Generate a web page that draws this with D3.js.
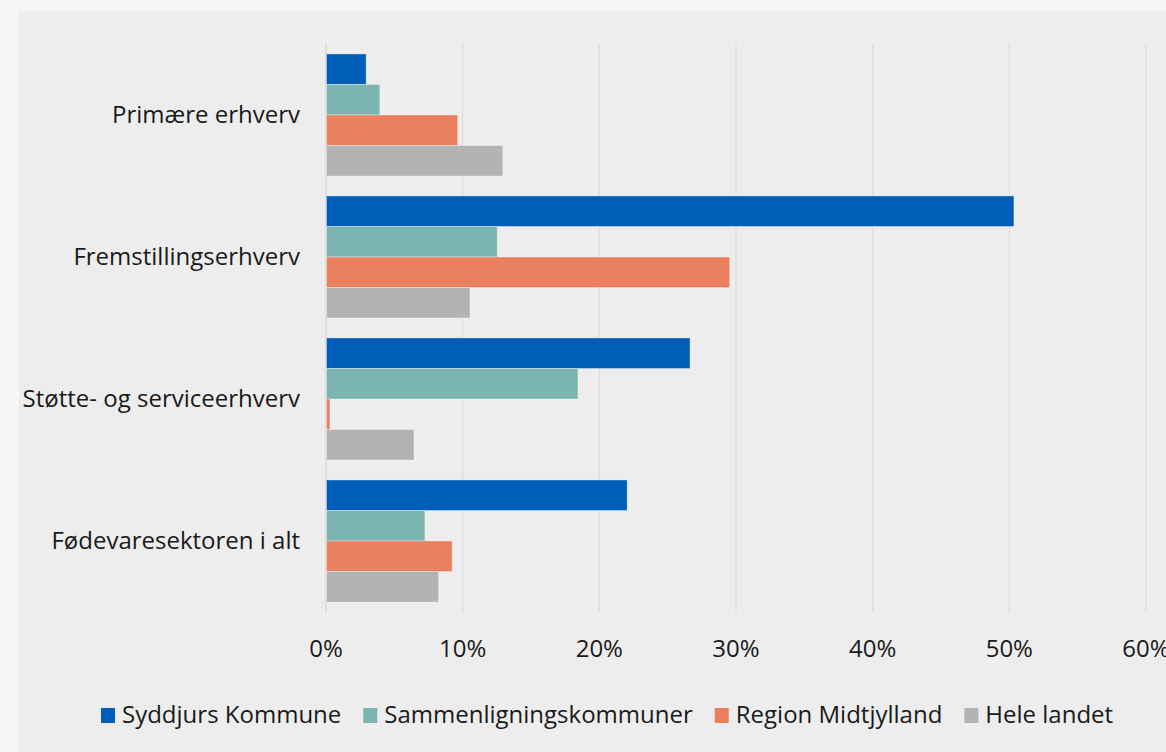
<!DOCTYPE html>
<html>
<head>
<meta charset="utf-8">
<script src="https://cdn.jsdelivr.net/npm/d3@7"></script>
<style>
  body { margin: 0; background: #f7f6f4; }
  svg { display: block; font-family: "Open Sans", "Noto Sans", sans-serif; }
</style>
</head>
<body>
<svg width="1166" height="752"></svg>
<script>
const categories = ["Primære erhverv", "Fremstillingserhverv", "Støtte- og serviceerhverv", "Fødevaresektoren i alt"];
const seriesNames = ["Syddjurs Kommune", "Sammenligningskommuner", "Region Midtjylland", "Hele landet"];
const colors = ["#005eb8", "#7bb5af", "#ea805f", "#b3b3b3"];
const syddjurs = [2.9, 50.3, 26.6, 22.0];
const sammenligning = [3.9, 12.5, 18.4, 7.2];
const region = [9.6, 29.5, 0.25, 9.2];
const heleLandet = [12.9, 10.5, 6.4, 8.2];
const xTicks = [0, 10, 20, 30, 40, 50, 60];

const series = [syddjurs, sammenligning, region, heleLandet];

const svg = d3.select("svg");
const width = +svg.attr("width");
const height = +svg.attr("height");

// panel
svg.append("rect")
  .attr("x", 19).attr("y", 11)
  .attr("width", width - 19).attr("height", height - 11)
  .attr("fill", "#ededed");

const x = d3.scaleLinear().domain([0, 60]).range([326, 1146]);
const y0 = d3.scaleBand().domain(categories).range([44, 612]).paddingInner(0.14).paddingOuter(0.07);
const y1 = d3.scaleBand().domain(d3.range(series.length)).range([0, y0.bandwidth()]);

// grid
svg.append("g")
  .selectAll("line")
  .data(xTicks)
  .enter()
  .append("line")
  .attr("x1", (d) => x(d))
  .attr("x2", (d) => x(d))
  .attr("y1", 44)
  .attr("y2", 612)
  .attr("stroke", (d) => (d === 0 ? "#d4d4d4" : "#dcdcdc"))
  .attr("stroke-width", 1.2);

// bars
const groups = svg.append("g")
  .selectAll("g")
  .data(categories)
  .enter()
  .append("g")
  .attr("transform", (d) => `translate(0,${y0(d)})`);

groups.selectAll("rect")
  .data((d, i) => series.map((s, j) => ({ j, v: s[i] })))
  .enter()
  .append("rect")
  .attr("x", x(0) + 0.5)
  .attr("y", (d) => y1(d.j))
  .attr("width", (d) => x(d.v) - x(0))
  .attr("height", y1.bandwidth())
  .attr("fill", (d) => colors[d.j])
  .attr("stroke", "rgba(255,255,255,0.35)")
  .attr("stroke-width", 1);

// category labels
svg.append("g")
  .selectAll("text")
  .data(categories)
  .enter()
  .append("text")
  .attr("x", 300)
  .attr("y", (d) => y0(d) + y0.bandwidth() / 2)
  .attr("dy", "0.35em")
  .attr("text-anchor", "end")
  .attr("font-size", 24)
  .attr("fill", "#1a1a1a")
  .text((d) => d);

// x axis labels (the 60% label runs off the right edge, as in the original)
svg.append("g")
  .selectAll("text")
  .data(xTicks)
  .enter()
  .append("text")
  .attr("x", (d) => x(d))
  .attr("y", 657)
  .attr("text-anchor", "middle")
  .attr("font-size", 24)
  .attr("fill", "#1a1a1a")
  .text((d) => d + "%");

// legend
const legend = svg.append("g").attr("transform", "translate(101,715)");
let lx = 0;
seriesNames.forEach((name, i) => {
  const item = legend.append("g").attr("transform", `translate(${lx},0)`);
  item.append("rect")
    .attr("x", 0).attr("y", -7)
    .attr("width", 14).attr("height", 15)
    .attr("fill", colors[i]);
  const t = item.append("text")
    .attr("x", 21)
    .attr("dy", "0.35em")
    .attr("font-size", 24)
    .attr("fill", "#1a1a1a")
    .text(name);
  lx += 21 + t.node().getComputedTextLength() + 22;
});
</script>
</body>
</html>
